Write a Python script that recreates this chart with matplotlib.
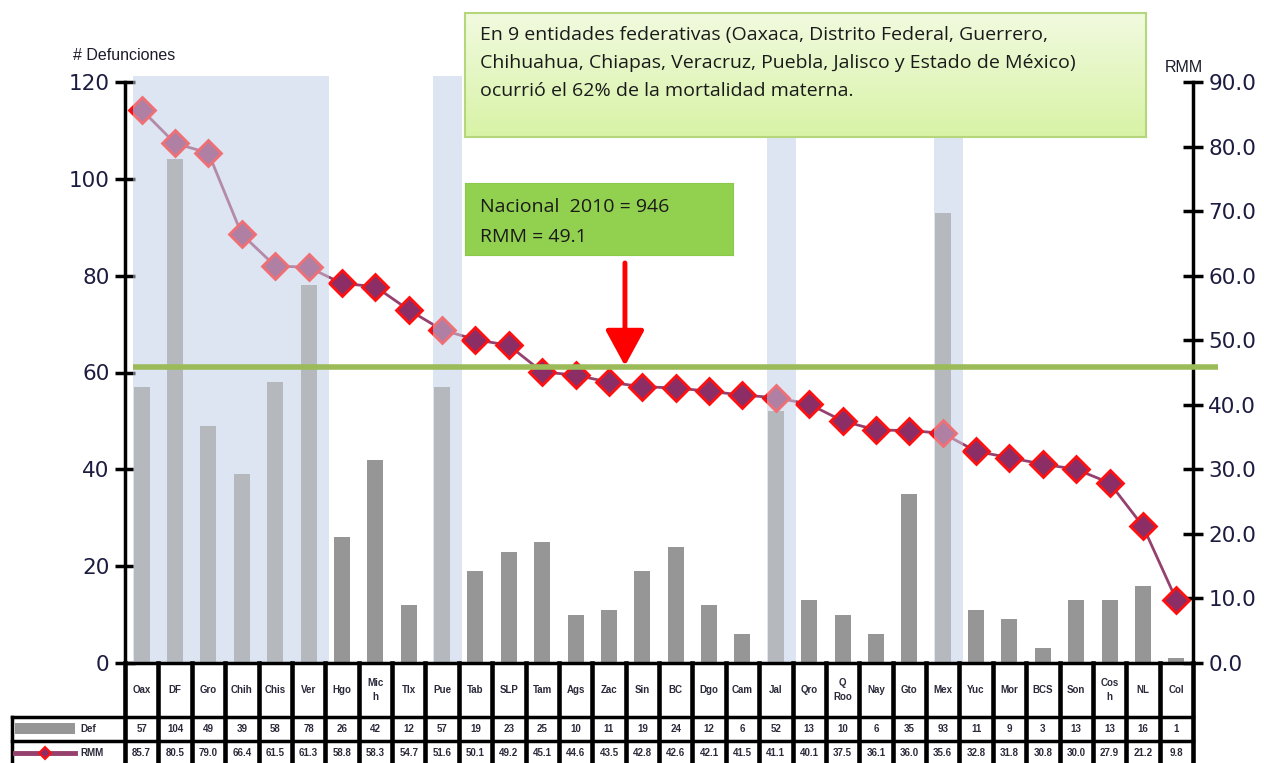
import numpy as np
import matplotlib.pyplot as plt
from matplotlib.patches import Rectangle, FancyArrowPatch
from matplotlib.lines import Line2D
from matplotlib.colors import LinearSegmentedColormap

# data
estados = ['Oax', 'DF', 'Gro', 'Chih', 'Chis', 'Ver', 'Hgo', 'Mic\nh', 'Tlx', 'Pue', 'Tab', 'SLP',
           'Tam', 'Ags', 'Zac', 'Sin', 'BC', 'Dgo', 'Cam', 'Jal', 'Qro', 'Q\nRoo', 'Nay', 'Gto',
           'Mex', 'Yuc', 'Mor', 'BCS', 'Son', 'Cos\nh', 'NL', 'Col']
defunciones = [57, 104, 49, 39, 58, 78, 26, 42, 12, 57, 19, 23, 25, 10, 11, 19, 24, 12, 6, 52,
               13, 10, 6, 35, 93, 11, 9, 3, 13, 13, 16, 1]
rmm = [85.7, 80.5, 79.0, 66.4, 61.5, 61.3, 58.8, 58.3, 54.7, 51.6, 50.1, 49.2, 45.1, 44.6, 43.5,
       42.8, 42.6, 42.1, 41.5, 41.1, 40.1, 37.5, 36.1, 36.0, 35.6, 32.8, 31.8, 30.8, 30.0, 27.9,
       21.2, 9.8]
grupos = [(0, 5), (9, 9), (19, 19), (24, 24)]   # las 9 entidades
linea_ref = 45.9
left_ticks = [0, 20, 40, 60, 80, 100, 120]
right_ticks = [0, 10, 20, 30, 40, 50, 60, 70, 80, 90]

W, H = 1264, 763
fig = plt.figure(figsize=(W / 100, H / 100), dpi=100)
x = np.arange(len(estados))
n = len(estados)

ax = fig.add_axes([125 / W, 1 - 663 / H, (1193 - 125) / W, (663 - 82) / H])
ax.bar(x, defunciones, width=0.48, color='#969696', zorder=2)
ax.set_xlim(-0.5, n - 0.5)
ax.set_ylim(0, 120)
ax.set_xticks([])
ax.set_yticks(left_ticks)
for s in ['top', 'right', 'bottom']:
    ax.spines[s].set_visible(False)
ax.spines['left'].set_linewidth(2.5)
ax.tick_params(axis='y', direction='inout', length=14, width=2.5, labelsize=15.5,
               labelcolor='#1c1c40', pad=4)

ax2 = ax.twinx()
ax2.set_ylim(0, 90)
ax2.set_yticks(right_ticks)
ax2.set_yticklabels(['%.1f' % v for v in right_ticks])
for s in ['top', 'left', 'bottom']:
    ax2.spines[s].set_visible(False)
ax2.spines['right'].set_linewidth(2.5)
ax2.tick_params(axis='y', direction='inout', length=14, width=2.5, labelsize=15.5,
                labelcolor='#1c1c40', pad=4)
ax2.plot(x, rmm, color='#96406e', lw=2, marker='D', ms=13, mfc='#8c2d66', mec='#ff1010',
         mew=2, zorder=3)

# bandas de las 9 entidades: fondo opaco y velo claro por encima
for a, b in grupos:
    ax.axvspan(a - 0.27, b + 0.6, ymin=0, ymax=121.2 / 120, color='#dce5f1',
               lw=0, zorder=1, clip_on=False)
    ax2.axvspan(a - 0.27, b + 0.6, ymin=0, ymax=121.2 / 120, color='#dce5f1', alpha=0.45,
                lw=0, zorder=5, clip_on=False)

ax2.plot([-0.26, 32.25], [linea_ref, linea_ref], color='#9bbb59', lw=4, zorder=6,
         clip_on=False, solid_capstyle='butt')

arr = FancyArrowPatch((14.48, 62.4), (14.48, 45.6), arrowstyle='-|>,head_width=12,head_length=22',
                      mutation_scale=1, color='#ff0000', lw=3.5, zorder=7)
ax2.add_patch(arr)

fig.text(73 / W, 1 - 55 / H, '# Defunciones', fontsize=11.5, family='Liberation Sans',
         va='center', ha='left', color='#1c1c2c')
fig.text(1165 / W, 1 - 68 / H, 'RMM', fontsize=11.5, family='Liberation Sans',
         va='center', ha='left', color='#1c1c2c')

# cuadro de texto superior con degradado
bx = fig.add_axes([465 / W, 1 - 137 / H, 681 / W, 124 / H], zorder=10)
grad = np.linspace(0, 1, 64)[:, None]
cm = LinearSegmentedColormap.from_list('g', ['#f1fadf', '#d8f3a6'])
bx.imshow(grad, aspect='auto', cmap=cm, extent=[0, 1, 0, 1], origin='upper')
bx.set_xlim(0, 1)
bx.set_ylim(0, 1)
bx.set_xticks([])
bx.set_yticks([])
for s in bx.spines.values():
    s.set_color('#b5d67a')
    s.set_linewidth(1.5)
lineas = ['En 9 entidades federativas (Oaxaca, Distrito Federal, Guerrero,',
          'Chihuahua, Chiapas, Veracruz, Puebla, Jalisco y Estado de México)',
          'ocurrió el 62% de la mortalidad materna.']
for i, t in enumerate(lineas):
    fig.text(480 / W, 1 - (35 + 28 * i) / H, t, fontsize=14, family='Open Sans', va='center',
             ha='left', color='#1a1a1a', zorder=11)

# cuadro verde
gx = fig.add_axes([465 / W, 1 - 255 / H, 268 / W, 72 / H], zorder=10)
gx.set_facecolor('#92d050')
gx.set_xticks([])
gx.set_yticks([])
for s in gx.spines.values():
    s.set_color('#8cc84a')
fig.text(480 / W, 1 - 207 / H, 'Nacional  2010 = 946', fontsize=14, family='Open Sans',
         va='center', ha='left', color='#1a1a1a', zorder=11)
fig.text(480 / W, 1 - 237 / H, 'RMM = 49.1', fontsize=14, family='Open Sans', va='center',
         ha='left', color='#1a1a1a', zorder=11)

# tabla inferior
cw = 33.375
x0 = -0.5 - (125 - 12) / cw
tx = fig.add_axes([12 / W, 0, (1193 - 12) / W, 100 / H])
tx.set_xlim(x0, n - 0.5)
tx.set_ylim(0, 100)
tx.axis('off')
lw = 2.5
tx.add_line(Line2D([-0.5, n - 0.5], [100, 100], color='k', lw=lw, clip_on=False))
tx.add_line(Line2D([x0, n - 0.5], [46, 46], color='k', lw=lw, clip_on=False))
tx.add_line(Line2D([x0, n - 0.5], [22, 22], color='k', lw=lw, clip_on=False))
tx.add_line(Line2D([x0, x0], [46, -2], color='k', lw=lw, clip_on=False))
for i in range(n + 1):
    tx.add_line(Line2D([i - 0.5, i - 0.5], [100, -2], color='k', lw=lw + 0.8, clip_on=False))
tfont = dict(fontsize=7, family='Liberation Sans', fontweight='bold', ha='center',
             va='center', color='#2a2a3a')
for i in range(n):
    tx.text(i, 73, estados[i], linespacing=1.6, **tfont)
    tx.text(i, 34, str(defunciones[i]), **tfont)
    tx.text(i, 10, '%.1f' % rmm[i], **tfont)
tx.add_patch(Rectangle((x0 + 3 / cw, 29), 60 / cw, 11, color='#969696', lw=0))
tx.text(x0 + 68 / cw, 34, 'Def', fontsize=7, family='Liberation Sans', fontweight='bold',
        ha='left', va='center', color='#2a2a3a')
tx.add_line(Line2D([x0 + 3 / cw, x0 + 63 / cw], [10, 10], color='#96406e', lw=3.5))
tx.plot([x0 + 33 / cw], [10], marker='D', ms=6, mfc='#8c2d66', mec='#ff1010', mew=1.5)
tx.text(x0 + 68 / cw, 10, 'RMM', fontsize=7, family='Liberation Sans', fontweight='bold',
        ha='left', va='center', color='#2a2a3a')

fig.savefig('out.png', dpi=100)
